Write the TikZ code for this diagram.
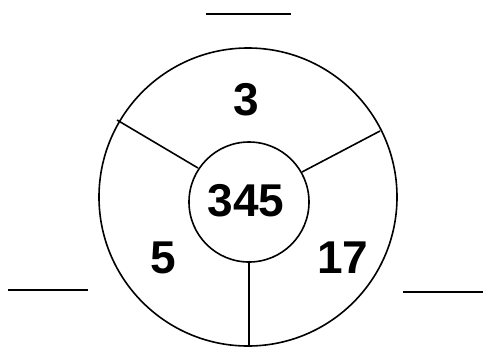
\documentclass[tikz,border=0pt]{standalone}
\usepackage{fontspec}
\setmainfont{Liberation Sans}
\begin{document}
\begin{tikzpicture}[x=1pt,y=-1pt,
  ln/.style={line width=1.6pt,black},
  num/.style={font=\fontsize{46}{46}\selectfont\bfseries,inner sep=0pt,anchor=center}]
\useasboundingbox (0,0) rectangle (492,349);
\coordinate (oc) at (248,197);
\coordinate (ic) at (249,202);
\draw[ln] (oc) circle[radius=149];
\draw[ln] (ic) circle[radius=60];
\coordinate (ulo) at (117,120);
\coordinate (uli) at (198,168);
\coordinate (uro) at (380,131);
\coordinate (uri) at (302,172);
\coordinate (bi) at (249,262);
\coordinate (bo) at (249,347);
\draw[ln] (ulo) -- (uli);
\draw[ln] (uro) -- (uri);
\draw[ln] (bi) -- (bo);
\coordinate (t1) at (206,14);
\coordinate (t2) at (291,14);
\coordinate (l1) at (8,290);
\coordinate (l2) at (88,290);
\coordinate (r1) at (403,292);
\coordinate (r2) at (483,292);
\draw[ln] (t1) -- (t2);
\draw[ln] (l1) -- (l2);
\draw[ln] (r1) -- (r2);
\node[num] (n3) at (246,100) {3};
\node[num] (n345) at (246,201) {345};
\node[num] (n5) at (163,258) {5};
\node[num] (n17) at (343,258) {17};
\end{tikzpicture}
\end{document}
